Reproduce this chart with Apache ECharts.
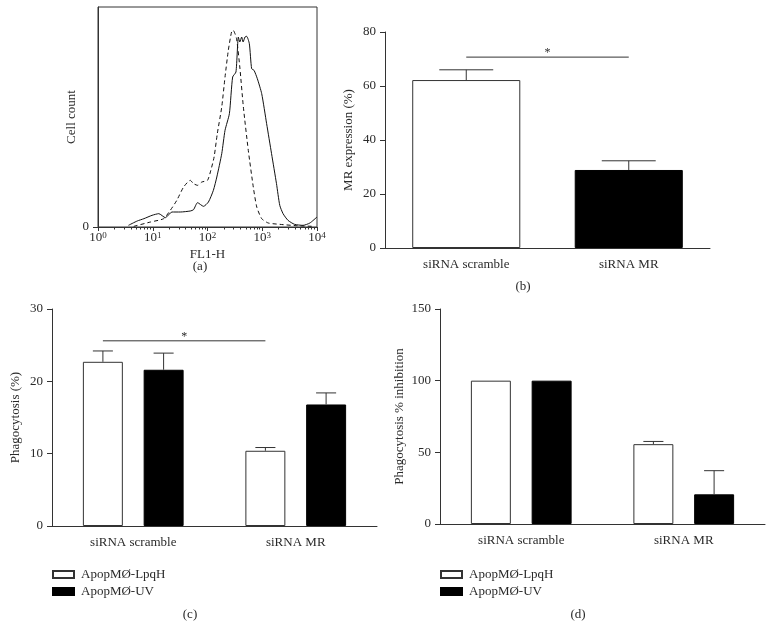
<!DOCTYPE html>
<html><head><meta charset="utf-8">
<script src="https://cdn.jsdelivr.net/npm/echarts@6/dist/echarts.min.js"></script>
<style>html,body{margin:0;padding:0;background:#fff}#c{width:773px;height:642px}</style>
</head><body><div id="c"></div>
<script>
// ---------- Panel (a): flow cytometry histogram (FL1-H, log scale) ----------
const histSolidX = [3.6, 5.2, 6.9, 9.7, 12.9, 17, 22.4, 31.8, 48.4, 55.6, 65.8, 84.5, 104, 128, 148, 182, 209, 251, 288, 331, 366, 389, 421, 447, 484, 519, 581, 640, 708, 813, 977, 1202, 1479, 1820, 2089, 2399, 2951, 3890, 5559, 7413, 10000];
const histSolidY = [5, 18, 25, 35, 40, 28, 45, 45, 48, 52, 73, 62, 75, 110, 150, 220, 290, 340, 450, 465, 570, 555, 570, 555, 570, 572, 550, 475, 470, 445, 400, 310, 220, 130, 65, 40, 20, 8, 5, 12, 30];
const histDashedX = [4.5, 9.1, 15.8, 20.9, 27.5, 36.6, 48.4, 55.6, 65.8, 78.9, 100, 115, 132, 151, 182, 209, 240, 275, 295, 339, 389, 452, 556, 686, 794, 977, 1288, 2089, 4169, 8511];
const histDashedY = [2, 15, 25, 50, 80, 120, 140, 130, 125, 135, 140, 170, 210, 280, 360, 450, 530, 585, 590, 565, 480, 360, 230, 120, 60, 25, 12, 8, 4, 2];
const histMajorTicks = [1, 10, 100, 1000, 10000];
const histMinorTicks = [2, 3, 4, 5, 6, 7, 8, 9, 20, 30, 40, 50, 60, 70, 80, 90, 200, 300, 400, 500, 600, 700, 800, 900, 2000, 3000, 4000, 5000, 6000, 7000, 8000, 9000];
const histYMax = 660;

// ---------- Panels (b)-(d) ----------
const categories = ['siRNA scramble', 'siRNA MR'];
const seriesNames = ['ApopMØ-LpqH', 'ApopMØ-UV'];
const mrExpression = [62.2, 28.9];
const mrExpressionErr = [3.8, 3.4];
const phagoLpqH = [22.7, 10.4];
const phagoLpqHErr = [1.5, 0.45];
const phagoUV = [21.6, 16.8];
const phagoUVErr = [2.3, 1.6];
const inhibLpqH = [100, 55.7];
const inhibLpqHErr = [0, 1.9];
const inhibUV = [100, 20.7];
const inhibUVErr = [0, 16.5];
const sigLevelB = 70.7;
const sigLevelC = 25.6;
const yTicksB = [0, 20, 40, 60, 80];
const yTicksC = [0, 10, 20, 30];
const yTicksD = [0, 50, 100, 150];

const FONT = 'Liberation Serif';
const INK = '#2a2a2a';
const LINE = '#333';

const zip = (a, b) => a.map((v, i) => [v, b[i]]);

function errRender(offsetFrac, capFrac) {
  return function (params, api) {
    const cat = api.value(0), v = api.value(1), e = api.value(2);
    if (!e) return null;
    const band = api.size([1, 0])[0];
    const p0 = api.coord([cat, v]);
    const p1 = api.coord([cat, v + e]);
    const x = p0[0] + offsetFrac * band;
    const cw = capFrac * band;
    return {
      type: 'group',
      children: [
        { type: 'line', shape: { x1: x, y1: p0[1], x2: x, y2: p1[1] }, style: { stroke: LINE, lineWidth: 1 } },
        { type: 'line', shape: { x1: x - cw, y1: p1[1], x2: x + cw, y2: p1[1] }, style: { stroke: LINE, lineWidth: 1 } }
      ]
    };
  };
}
function sigRender(offsetFrac) {
  return function (params, api) {
    const band = api.size([1, 0])[0];
    const a = api.coord([api.value(0), api.value(2)]);
    const b = api.coord([api.value(1), api.value(2)]);
    const x1 = a[0] + offsetFrac * band, x2 = b[0] + offsetFrac * band;
    return {
      type: 'group',
      children: [
        { type: 'line', shape: { x1: x1, y1: a[1], x2: x2, y2: a[1] }, style: { stroke: LINE, lineWidth: 1 } },
        { type: 'text', x: (x1 + x2) / 2, y: a[1] - 4, style: { text: '*', fontFamily: FONT, fontSize: 12, fill: INK, align: 'center', verticalAlign: 'middle' } }
      ]
    };
  };
}

const catAxis = (gridIndex) => ({
  gridIndex, type: 'category', data: categories,
  axisLine: { lineStyle: { color: LINE, width: 1 } },
  axisTick: { alignWithLabel: true, length: 5, lineStyle: { color: LINE } },
  axisLabel: { color: INK, fontFamily: FONT, fontSize: 13, margin: 10 },
  splitLine: { show: false }
});
const valAxis = (gridIndex, max, interval, name, nameGap) => ({
  gridIndex, type: 'value', min: 0, max, interval, name, nameLocation: 'middle', nameGap,
  nameTextStyle: { color: INK, fontFamily: FONT, fontSize: 13 },
  axisLine: { show: true, lineStyle: { color: LINE, width: 1 } },
  axisTick: { show: true, length: 5, lineStyle: { color: LINE } },
  axisLabel: { color: INK, fontFamily: FONT, fontSize: 13, margin: 9 },
  splitLine: { show: false }
});

const whiteBar = { color: '#fff', borderColor: LINE, borderWidth: 1 };
const blackBar = { color: '#000', borderColor: '#000', borderWidth: 1 };

// grouped bar geometry (fractions of category band)
const GB_OFF = 0.1868, GB_CAP = 0.0617;
const SB_CAP = 0.166;

const legendBase = {
  data: seriesNames, orient: 'vertical', top: 568, padding: 0, itemWidth: 21, itemHeight: 7, itemGap: 4,
  icon: 'rect', selectedMode: false,
  textStyle: { color: INK, fontFamily: FONT, fontSize: 13, padding: [0, 0, 0, 2] }
};

const option = {
  animation: false,
  textStyle: { fontFamily: FONT },
  grid: [
    { left: 98, top: 7, width: 219, height: 220, show: true, borderColor: LINE, borderWidth: 1, backgroundColor: 'transparent' },
    { left: 385, top: 32, width: 325, height: 216 },
    { left: 52, top: 309, width: 325, height: 217 },
    { left: 440, top: 309, width: 325, height: 215 }
  ],
  xAxis: [
    {
      gridIndex: 0, type: 'log', logBase: 10, position: 'bottom',
      min: histMajorTicks[0], max: histMajorTicks[histMajorTicks.length - 1],
      name: 'FL1-H', nameLocation: 'middle', nameGap: 16,
      nameTextStyle: { color: INK, fontFamily: FONT, fontSize: 13 },
      axisLine: { show: true, lineStyle: { color: LINE, width: 1 } },
      axisTick: { show: true, length: 4, lineStyle: { color: LINE } },
      axisLabel: {
        margin: 4, color: INK,
        formatter: (v) => '{b|10}{s|' + Math.round(Math.log10(v)) + '}',
        rich: {
          b: { fontFamily: FONT, fontSize: 13, color: INK, verticalAlign: 'bottom', lineHeight: 13 },
          s: { fontFamily: FONT, fontSize: 9, color: INK, verticalAlign: 'top', lineHeight: 9, padding: [0, 0, 7, 0] }
        }
      },
      splitLine: { show: false }
    },
    {
      gridIndex: 0, type: 'log', logBase: 10, position: 'bottom', offset: 0,
      min: histMajorTicks[0], max: histMajorTicks[histMajorTicks.length - 1],
      axisLine: { show: false },
      axisTick: { show: true, length: 2.5, customValues: histMinorTicks, lineStyle: { color: LINE } },
      axisLabel: { show: false },
      splitLine: { show: false }
    },
    catAxis(1), catAxis(2), catAxis(3)
  ],
  yAxis: [
    {
      gridIndex: 0, type: 'value', min: 0, max: histYMax, interval: histYMax,
      name: 'Cell count', nameLocation: 'middle', nameGap: 20,
      nameTextStyle: { color: INK, fontFamily: FONT, fontSize: 13 },
      axisLine: { show: true, lineStyle: { color: LINE } },
      axisTick: { show: true, length: 5, customValues: [0], lineStyle: { color: LINE } },
      axisLabel: { color: INK, fontFamily: FONT, fontSize: 13, margin: 9, customValues: [0], formatter: (v) => (v === 0 ? '0' : '') },
      splitLine: { show: false }
    },
    valAxis(1, yTicksB[yTicksB.length - 1], yTicksB[1] - yTicksB[0], 'MR expression (%)', 30),
    valAxis(2, yTicksC[yTicksC.length - 1], yTicksC[1] - yTicksC[0], 'Phagocytosis (%)', 30),
    valAxis(3, yTicksD[yTicksD.length - 1], yTicksD[1] - yTicksD[0], 'Phagocytosis % inhibition', 34)
  ],
  legend: [
    Object.assign({}, legendBase, { left: 52 }),
    Object.assign({}, legendBase, { left: 440 })
  ],
  graphic: [
    { type: 'text', x: 200, y: 267, style: { text: '(a)', fontFamily: FONT, fontSize: 13, fill: INK, align: 'center', verticalAlign: 'middle' } },
    { type: 'text', x: 523, y: 287, style: { text: '(b)', fontFamily: FONT, fontSize: 13, fill: INK, align: 'center', verticalAlign: 'middle' } },
    { type: 'text', x: 190, y: 615, style: { text: '(c)', fontFamily: FONT, fontSize: 13, fill: INK, align: 'center', verticalAlign: 'middle' } },
    { type: 'text', x: 578, y: 615, style: { text: '(d)', fontFamily: FONT, fontSize: 13, fill: INK, align: 'center', verticalAlign: 'middle' } }
  ],
  series: [
    // (a)
    { type: 'line', xAxisIndex: 0, yAxisIndex: 0, data: zip(histSolidX, histSolidY), symbol: 'none', smooth: 0.2, lineStyle: { color: '#111', width: 1 } },
    { type: 'line', xAxisIndex: 0, yAxisIndex: 0, data: zip(histDashedX, histDashedY), symbol: 'none', smooth: 0.2, lineStyle: { color: '#111', width: 1, type: [4, 3] } },
    // (b)
    {
      type: 'bar', xAxisIndex: 2, yAxisIndex: 1, barWidth: '66.5%',
      data: mrExpression.map((v, i) => ({ value: v, itemStyle: i === 0 ? whiteBar : blackBar }))
    },
    { type: 'custom', xAxisIndex: 2, yAxisIndex: 1, renderItem: errRender(0, SB_CAP), data: mrExpression.map((v, i) => [i, v, mrExpressionErr[i]]), z: 3 },
    { type: 'custom', xAxisIndex: 2, yAxisIndex: 1, renderItem: sigRender(0), data: [[0, 1, sigLevelB]], z: 3 },
    // (c)
    { name: seriesNames[0], type: 'bar', xAxisIndex: 3, yAxisIndex: 2, barWidth: '24.6%', barGap: '52%', itemStyle: whiteBar, data: phagoLpqH },
    { name: seriesNames[1], type: 'bar', xAxisIndex: 3, yAxisIndex: 2, barWidth: '24.6%', barGap: '52%', itemStyle: blackBar, data: phagoUV },
    { type: 'custom', xAxisIndex: 3, yAxisIndex: 2, renderItem: errRender(-GB_OFF, GB_CAP), data: phagoLpqH.map((v, i) => [i, v, phagoLpqHErr[i]]), z: 3 },
    { type: 'custom', xAxisIndex: 3, yAxisIndex: 2, renderItem: errRender(GB_OFF, GB_CAP), data: phagoUV.map((v, i) => [i, v, phagoUVErr[i]]), z: 3 },
    { type: 'custom', xAxisIndex: 3, yAxisIndex: 2, renderItem: sigRender(-GB_OFF), data: [[0, 1, sigLevelC]], z: 3 },
    // (d)
    { name: seriesNames[0], type: 'bar', xAxisIndex: 4, yAxisIndex: 3, barWidth: '24.6%', barGap: '52%', itemStyle: whiteBar, data: inhibLpqH },
    { name: seriesNames[1], type: 'bar', xAxisIndex: 4, yAxisIndex: 3, barWidth: '24.6%', barGap: '52%', itemStyle: blackBar, data: inhibUV },
    { type: 'custom', xAxisIndex: 4, yAxisIndex: 3, renderItem: errRender(-GB_OFF, GB_CAP), data: inhibLpqH.map((v, i) => [i, v, inhibLpqHErr[i]]), z: 3 },
    { type: 'custom', xAxisIndex: 4, yAxisIndex: 3, renderItem: errRender(GB_OFF, GB_CAP), data: inhibUV.map((v, i) => [i, v, inhibUVErr[i]]), z: 3 }
  ]
};

const chart = echarts.init(document.getElementById('c'), null, { renderer: 'canvas' });
chart.setOption(option);
</script>
</body></html>
